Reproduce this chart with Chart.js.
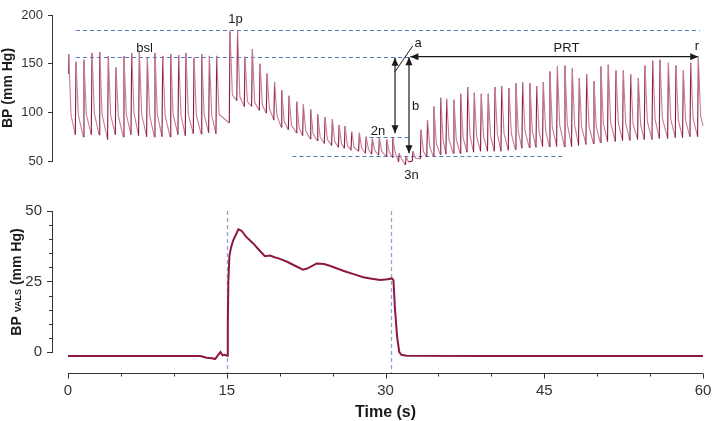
<!DOCTYPE html>
<html>
<head>
<meta charset="utf-8">
<script src="https://cdn.jsdelivr.net/npm/chart.js@4.4.0/dist/chart.umd.min.js"></script>
<style>
  body { margin: 0; background: #fff; }
  #wrap { position: relative; width: 719px; height: 421px; }
  #topChart { position: absolute; left: 0; top: 0; }
  #botChart { position: absolute; left: 0; top: 190px; }
</style>
</head>
<body>
<div id="wrap">
  <canvas id="topChart" width="719" height="190" style="width:719px;height:190px"></canvas>
  <canvas id="botChart" width="719" height="231" style="width:719px;height:231px"></canvas>
</div>
<script>
// beats of the arterial trace: time of each systolic peak (s), peak, diastolic foot, dicrotic notch (mm Hg)
// rows: rest / strain (phase 2) / release (phase 3) / recovery (phase 4)
const beatT = [
  0.07, 0.76, 1.51, 2.27, 3.00, 3.81, 4.54, 5.29, 6.02, 6.74, 7.50, 8.22, 8.95, 9.71, 10.46, 11.15, 11.91, 12.64, 13.36, 14.05,
  15.31, 16.02, 16.73, 17.42, 18.15, 18.81, 19.52, 20.20, 20.89, 21.62, 22.24, 22.94, 23.60, 24.29, 24.98, 25.62, 26.18, 26.81, 27.53, 28.17, 28.76, 29.42, 30.12, 30.69,
  31.30, 31.95, 32.60,
  33.36, 33.97, 34.58, 35.22, 35.78, 36.47, 37.11, 37.77, 38.39, 39.05, 39.71, 40.35, 40.98, 41.67, 42.33, 42.96, 43.65, 44.29, 44.91, 45.54,
  46.24, 46.96, 47.65, 48.31, 49.01, 49.70, 50.36, 51.05, 51.78, 52.47, 53.17, 53.89, 54.52, 55.25, 55.94, 56.73, 57.45, 58.14, 58.84, 59.56
];
const beatSys = [
  160, 152, 154, 161, 162, 158, 146, 158, 161, 163, 156, 161, 158, 160, 159, 161, 156, 160, 158, 158,
  183, 184, 157, 165, 150, 140, 131, 123, 117, 111, 108, 103, 98, 95, 93, 87, 86, 80, 79, 75, 73, 74, 72, 74,
  58, 55, 60,
  82, 92, 106, 115, 114, 113, 119, 126, 120, 119, 119, 126, 127, 125, 130, 131, 130, 127, 131, 142,
  147, 148, 145, 135, 139, 132, 147, 149, 143, 143, 139, 135, 148, 153, 154, 151, 148, 143, 151, 156
];
const beatDia = [
  140, 77, 75, 77, 77, 72, 77, 75, 77, 76, 75, 75, 75, 75, 77, 76, 78, 78, 79, 78,
  89, 112, 106, 106, 102, 99, 92, 85, 82, 79, 76, 73, 71, 68, 66, 64, 63, 61, 60, 58, 57, 56, 55, 54,
  49, 46, 50,
  52, 54, 55, 57, 57, 58, 58, 59, 59, 60, 60, 60, 60, 61, 62, 63, 64, 64, 65, 65,
  65, 65, 65, 66, 67, 68, 69, 70, 70, 71, 71, 72, 72, 72, 73, 73, 74, 74, 75, 75
];
const beatNotch = [
  97, 97, 98, 99, 98, 97, 96, 98, 99, 98, 97, 98, 97, 98, 97, 98, 97, 98, 97, 98,
  118, 116, 111, 110, 107, 104, 97, 91, 87, 84, 81, 78, 75, 72, 70, 68, 66, 64, 63, 62, 61, 60, 60, 59,
  52, 49, 53,
  60, 64, 68, 72, 72, 72, 74, 76, 75, 75, 76, 78, 78, 78, 80, 81, 81, 80, 82, 85,
  87, 88, 87, 85, 86, 85, 89, 90, 89, 89, 88, 87, 91, 93, 94, 93, 92, 91, 94, 96
];
const traceEnd = [60, 86];

// Valsalva (mouth) pressure
const valsT = [0, 12.5, 13.1, 13.6, 13.9, 14.2, 14.4, 14.6, 14.8, 15.05, 15.1, 15.15, 15.25, 15.4, 15.6, 15.85, 16.1, 16.4, 16.8,
  17.5, 18.1, 18.6, 19.1, 19.5, 19.9, 20.7, 21.5, 22.2, 22.6, 23.5, 24.2, 24.8, 26.0, 26.5, 27.0, 27.9, 28.7, 29.5, 30.2,
  30.6, 30.75, 30.9, 31.1, 31.3, 31.5, 32, 40, 50, 60];
const valsP = [-1.4, -1.4, -2.0, -2.2, -2.5, -1.0, 0, -1.2, -1.0, -1.3, 10, 25, 34, 37, 39.5, 41.5, 43.5, 43, 41,
  38.5, 36, 34, 34.2, 33.6, 33.2, 32, 30.5, 29.2, 29.6, 31.4, 31.2, 30.5, 28.8, 28.2, 27.6, 26.5, 26, 25.5, 25.8,
  26.1, 25.5, 15, 5.3, 0, -1, -1.3, -1.4, -1.4, -1.4];

const xTicks = [0, 15, 30, 45, 60];

const FONT = 'Liberation Sans, Arial, Helvetica, sans-serif';

// build the arterial trace: foot -> systolic peak -> notch for each beat
const bpPoints = [];
for (let i = 0; i < beatT.length; i++) {
  bpPoints.push({ x: beatT[i] - 0.07, y: beatDia[i] });
  bpPoints.push({ x: beatT[i], y: beatSys[i] });
  bpPoints.push({ x: beatT[i] + 0.22, y: beatNotch[i] });
}
bpPoints.push({ x: traceEnd[0], y: traceEnd[1] });

const valsPoints = valsT.map((t, i) => ({ x: t, y: valsP[i] }));

function arrowHead(ctx, x, y, dx, dy) {
  const L = 8, W = 3.5;
  ctx.beginPath();
  ctx.moveTo(x, y);
  ctx.lineTo(x - dx * L - dy * W, y - dy * L + dx * W);
  ctx.lineTo(x - dx * L + dy * W, y - dy * L - dx * W);
  ctx.closePath();
  ctx.fill();
}

const topAnnot = {
  id: 'topAnnot',
  beforeDatasetsDraw(chart) {
    const ctx = chart.ctx, xs = chart.scales.x, ys = chart.scales.y;
    // [level, from, to]
    const lines = [[184.6, 0.75, 59.7], [157.2, 0.75, 32.3], [74.4, 28.5, 32.3], [55.65, 21.2, 46.7]];
    ctx.save();
    ctx.strokeStyle = '#4f7bbd';
    ctx.lineWidth = 1;
    ctx.setLineDash([4, 3]);
    lines.forEach(l => {
      const y = Math.round(ys.getPixelForValue(l[0])) + 0.5;
      ctx.beginPath();
      ctx.moveTo(xs.getPixelForValue(l[1]), y);
      ctx.lineTo(xs.getPixelForValue(l[2]), y);
      ctx.stroke();
    });
    ctx.restore();
  },
  afterDatasetsDraw(chart) {
    const ctx = chart.ctx, xs = chart.scales.x, ys = chart.scales.y;
    const px = t => xs.getPixelForValue(t), py = v => ys.getPixelForValue(v);
    ctx.save();
    ctx.strokeStyle = '#1a1a1a';
    ctx.fillStyle = '#1a1a1a';
    ctx.lineWidth = 1.2;
    // PRT arrow
    const hy = py(157.2);
    ctx.beginPath(); ctx.moveTo(px(32.35), hy); ctx.lineTo(px(59.55), hy); ctx.stroke();
    arrowHead(ctx, px(32.35), hy, -1, 0);
    arrowHead(ctx, px(59.55), hy, 1, 0);
    // a (2n) arrow
    ctx.beginPath(); ctx.moveTo(px(30.9), py(156.1)); ctx.lineTo(px(30.9), py(78.5)); ctx.stroke();
    arrowHead(ctx, px(30.9), py(156.1), 0, -1);
    arrowHead(ctx, px(30.9), py(78.5), 0, 1);
    // b (3n) arrow
    ctx.beginPath(); ctx.moveTo(px(32.22), py(156.5)); ctx.lineTo(px(32.22), py(57.9)); ctx.stroke();
    arrowHead(ctx, px(32.22), py(156.5), 0, -1);
    arrowHead(ctx, px(32.22), py(57.9), 0, 1);
    // leader for a
    ctx.lineWidth = 1;
    ctx.beginPath(); ctx.moveTo(px(30.9), py(141.7)); ctx.lineTo(px(32.57), py(168.2)); ctx.stroke();
    // labels
    ctx.font = '13px ' + FONT;
    ctx.textAlign = 'center';
    ctx.textBaseline = 'alphabetic';
    const labels = [['1p', 15.83, 191.8], ['bsl', 7.23, 162.5], ['PRT', 47.1, 162.5], ['r', 59.43, 164.0],
      ['a', 33.07, 167.6], ['b', 32.84, 101.9], ['2n', 29.29, 76.7], ['3n', 32.46, 32.0]];
    labels.forEach(l => ctx.fillText(l[0], px(l[1]), py(l[2])));
    ctx.restore();
  }
};

const botAnnot = {
  id: 'botAnnot',
  beforeDatasetsDraw(chart) {
    const ctx = chart.ctx, xs = chart.scales.x, ys = chart.scales.y;
    const axisY = 183.5;
    ctx.save();
    // onset / release markers
    ctx.strokeStyle = '#8da6cc';
    ctx.lineWidth = 1.3;
    ctx.setLineDash([4, 3]);
    [15.0, 30.55].forEach(t => {
      const x = Math.round(xs.getPixelForValue(t)) + 0.5;
      ctx.beginPath(); ctx.moveTo(x, ys.getPixelForValue(50)); ctx.lineTo(x, axisY); ctx.stroke();
    });
    ctx.restore();
  },
  afterDraw(chart) {
    const ctx = chart.ctx, xs = chart.scales.x, ys = chart.scales.y;
    const axisY = 183.5;
    ctx.save();
    ctx.strokeStyle = '#333';
    ctx.lineWidth = 1;
    // minor y ticks
    const yx = chart.chartArea.left;
    for (let v = 5; v < 50; v += 5) {
      if (v % 25 === 0) continue;
      const y = Math.round(ys.getPixelForValue(v)) + 0.5;
      ctx.beginPath(); ctx.moveTo(yx - 3, y); ctx.lineTo(yx, y); ctx.stroke();
    }
    // time axis
    ctx.beginPath(); ctx.moveTo(xs.getPixelForValue(0), axisY); ctx.lineTo(xs.getPixelForValue(60), axisY); ctx.stroke();
    for (let t = 0; t <= 60; t += 5) {
      const x = Math.round(xs.getPixelForValue(t)) + 0.5;
      const len = xTicks.includes(t) ? 5 : 3;
      ctx.beginPath(); ctx.moveTo(x, axisY); ctx.lineTo(x, axisY + len); ctx.stroke();
    }
    ctx.fillStyle = '#333';
    ctx.font = '15px ' + FONT;
    ctx.textAlign = 'center';
    ctx.textBaseline = 'alphabetic';
    xTicks.forEach(t => ctx.fillText(String(t), xs.getPixelForValue(t), 205));
    ctx.fillStyle = '#1a1a1a';
    ctx.font = 'bold 16px ' + FONT;
    ctx.fillText('Time (s)', xs.getPixelForValue(30), 227);
    // y title with small-caps subscript
    const parts = [['BP ', 'bold 14px '], ['VALS', 'bold 9px '], [' (mm Hg)', 'bold 14px ']];
    let total = 0;
    parts.forEach(p => { ctx.font = p[1] + FONT; total += ctx.measureText(p[0]).width; });
    ctx.translate(21, 92);
    ctx.rotate(-Math.PI / 2);
    ctx.textAlign = 'left';
    let cx = -total / 2;
    parts.forEach(p => {
      ctx.font = p[1] + FONT;
      ctx.fillText(p[0], cx, 0);
      cx += ctx.measureText(p[0]).width;
    });
    ctx.restore();
  }
};

// rising strokes dark, falling strokes paler (as in the recorder trace)
const RISE = '#8a1744', FALL = '#c67d98';

new Chart(document.getElementById('topChart'), {
  type: 'line',
  data: {
    datasets: [{
      data: bpPoints,
      borderColor: RISE,
      borderWidth: 1.1,
      pointRadius: 0,
      tension: 0,
      clip: false,
      segment: {
        borderColor: c => (c.p1.parsed.y > c.p0.parsed.y ? RISE : FALL)
      }
    }]
  },
  options: {
    responsive: false,
    animation: false,
    layout: { padding: { left: 0, right: 16, top: 15, bottom: 29 } },
    plugins: { legend: { display: false }, tooltip: { enabled: false } },
    scales: {
      x: { type: 'linear', min: -1.512, max: 60, display: false },
      y: {
        min: 50, max: 200,
        afterFit: s => { s.width = 52; },
        ticks: { stepSize: 50, padding: 5, color: '#333', font: { family: FONT, size: 13 } },
        grid: { drawOnChartArea: false, tickLength: 4, color: '#333' },
        border: { display: true, color: '#333', width: 1 },
        title: { display: true, text: 'BP (mm Hg)', color: '#1a1a1a', padding: 0, font: { family: FONT, size: 14, weight: 'bold' } }
      }
    }
  },
  plugins: [topAnnot]
});

new Chart(document.getElementById('botChart'), {
  type: 'line',
  data: {
    datasets: [{
      data: valsPoints,
      borderColor: '#8c1a40',
      borderWidth: 2,
      pointRadius: 0,
      tension: 0,
      clip: false
    }]
  },
  options: {
    responsive: false,
    animation: false,
    layout: { padding: { left: 0, right: 16, top: 21, bottom: 69 } },
    plugins: { legend: { display: false }, tooltip: { enabled: false } },
    scales: {
      x: { type: 'linear', min: -1.512, max: 60, display: false },
      y: {
        min: 0, max: 50,
        afterFit: s => { s.width = 52; },
        ticks: { stepSize: 25, padding: 5, color: '#333', font: { family: FONT, size: 15 } },
        grid: { drawOnChartArea: false, tickLength: 5, color: '#333' },
        border: { display: true, color: '#333', width: 1 }
      }
    }
  },
  plugins: [botAnnot]
});
</script>
</body>
</html>
